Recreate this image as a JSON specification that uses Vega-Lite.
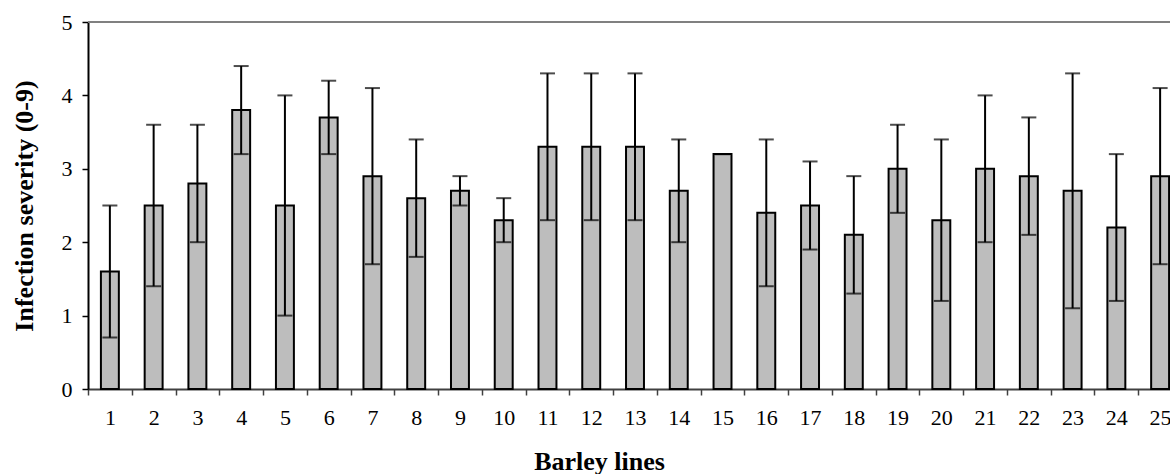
{
  "$schema": "https://vega.github.io/schema/vega-lite/v6.json",
  "autosize": "none",
  "padding": {"left": 88, "top": 22, "right": 0, "bottom": 85},
  "width": 1082,
  "height": 367,
  "config": {
    "view": {"stroke": null},
    "font": "Liberation Serif",
    "axis": {"labelFont": "Liberation Serif", "titleFont": "Liberation Serif", "labelColor": "#000", "titleColor": "#000", "grid": false}
  },
  "data": {
    "values": [
      {"line": "1", "mean": 1.6, "low": 0.7, "high": 2.5},
      {"line": "2", "mean": 2.5, "low": 1.4, "high": 3.6},
      {"line": "3", "mean": 2.8, "low": 2.0, "high": 3.6},
      {"line": "4", "mean": 3.8, "low": 3.2, "high": 4.4},
      {"line": "5", "mean": 2.5, "low": 1.0, "high": 4.0},
      {"line": "6", "mean": 3.7, "low": 3.2, "high": 4.2},
      {"line": "7", "mean": 2.9, "low": 1.7, "high": 4.1},
      {"line": "8", "mean": 2.6, "low": 1.8, "high": 3.4},
      {"line": "9", "mean": 2.7, "low": 2.5, "high": 2.9},
      {"line": "10", "mean": 2.3, "low": 2.0, "high": 2.6},
      {"line": "11", "mean": 3.3, "low": 2.3, "high": 4.3},
      {"line": "12", "mean": 3.3, "low": 2.3, "high": 4.3},
      {"line": "13", "mean": 3.3, "low": 2.3, "high": 4.3},
      {"line": "14", "mean": 2.7, "low": 2.0, "high": 3.4},
      {"line": "15", "mean": 3.2, "low": 3.2, "high": 3.2},
      {"line": "16", "mean": 2.4, "low": 1.4, "high": 3.4},
      {"line": "17", "mean": 2.5, "low": 1.9, "high": 3.1},
      {"line": "18", "mean": 2.1, "low": 1.3, "high": 2.9},
      {"line": "19", "mean": 3.0, "low": 2.4, "high": 3.6},
      {"line": "20", "mean": 2.3, "low": 1.2, "high": 3.4},
      {"line": "21", "mean": 3.0, "low": 2.0, "high": 4.0},
      {"line": "22", "mean": 2.9, "low": 2.1, "high": 3.7},
      {"line": "23", "mean": 2.7, "low": 1.1, "high": 4.3},
      {"line": "24", "mean": 2.2, "low": 1.2, "high": 3.2},
      {"line": "25", "mean": 2.9, "low": 1.7, "high": 4.1}
    ]
  },
  "encoding": {
    "x": {
      "field": "line", "type": "ordinal", "sort": null,
      "scale": {"type": "band", "paddingInner": 0, "paddingOuter": 0, "range": [0, 1094]},
      "axis": {
        "title": "Barley lines", "titleFontSize": 26, "titleFontWeight": "bold",
        "titleX": 511, "titleY": 80, "titleBaseline": "alphabetic", "titleAnchor": null,
        "labelAngle": 0, "labelFontSize": 22, "labelPadding": 12,
        "tickBand": "extent", "tickSize": 6, "tickColor": "#404040", "tickWidth": 1.5,
        "domainColor": "#404040", "domainWidth": 2
      }
    }
  },
  "layer": [
    {
      "mark": {"type": "rule", "color": "#808080", "strokeWidth": 2},
      "encoding": {"x": null, "y": {"datum": 5, "type": "quantitative"}}
    },
    {
      "mark": {"type": "bar", "width": {"band": 0.41}, "fill": "#bdbdbd", "stroke": "#000", "strokeWidth": 2},
      "encoding": {
        "y": {
          "field": "mean", "type": "quantitative",
          "scale": {"domain": [0, 5], "nice": false},
          "axis": {
            "title": "Infection severity (0-9)", "titleFontSize": 26, "titleFontWeight": "bold",
            "titleX": -64, "titleY": 183.5, "titleBaseline": "middle", "titleAnchor": null,
            "values": [0, 1, 2, 3, 4, 5], "format": "d",
            "labelFontSize": 22, "labelPadding": 10,
            "tickSize": 6, "tickColor": "#000", "tickWidth": 1.5,
            "domainColor": "#000", "domainWidth": 2
          }
        }
      }
    },
    {
      "mark": {"type": "rule", "color": "#000", "strokeWidth": 2},
      "encoding": {"y": {"field": "low", "type": "quantitative"}, "y2": {"field": "high"}}
    },
    {
      "mark": {"type": "tick", "color": "#000", "thickness": 2, "size": 15},
      "encoding": {"y": {"field": "low", "type": "quantitative"}}
    },
    {
      "mark": {"type": "tick", "color": "#000", "thickness": 2, "size": 15},
      "encoding": {"y": {"field": "high", "type": "quantitative"}}
    }
  ]
}
